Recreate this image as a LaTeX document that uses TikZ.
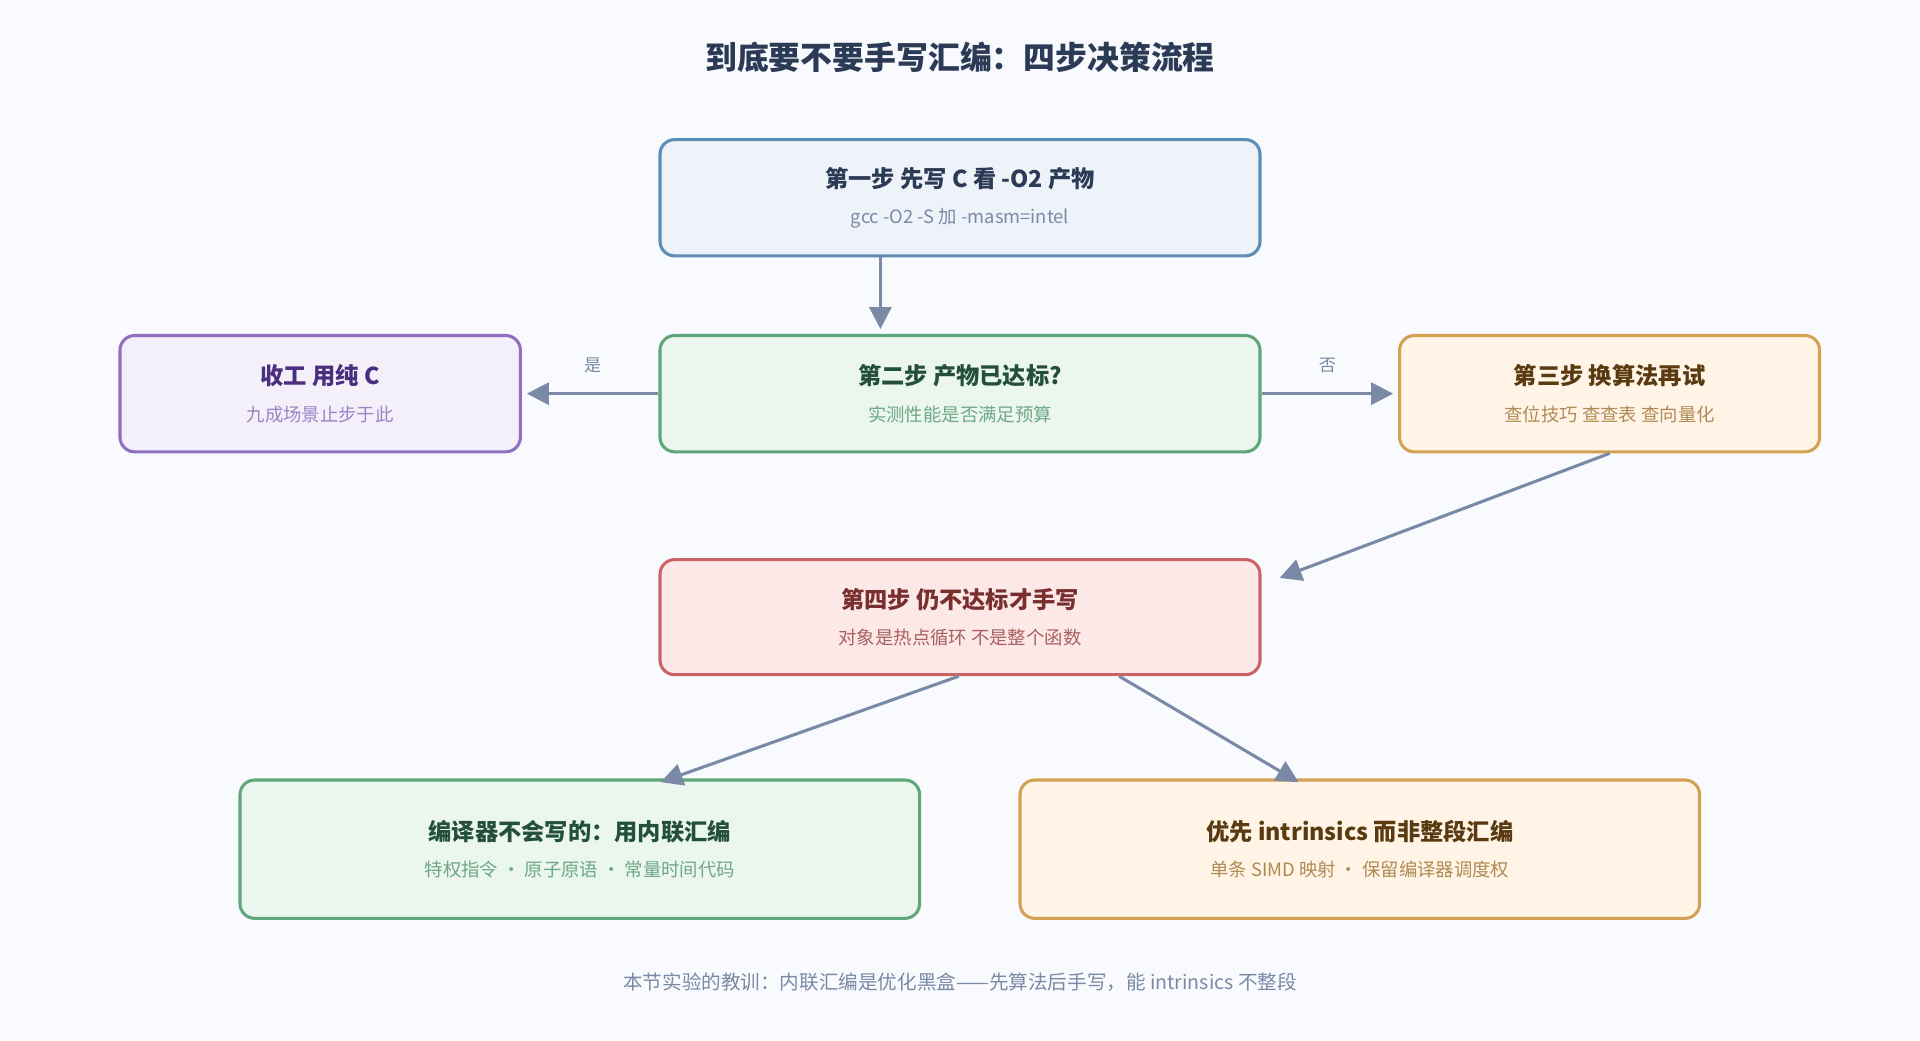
\documentclass[tikz,border=0pt]{standalone}
\usepackage{fontspec}
\setmainfont{Noto Sans CJK SC}
\usetikzlibrary{positioning,calc,arrows.meta}
\definecolor{page}{HTML}{F8FAFD}
\definecolor{ink}{HTML}{2B3A55}
\definecolor{muted}{HTML}{7A8AA6}
\definecolor{bluefill}{HTML}{EEF3FA}\definecolor{blueline}{HTML}{5B8DB8}
\definecolor{greenfill}{HTML}{EAF6EE}\definecolor{greenline}{HTML}{5FA77A}
\definecolor{greenink}{HTML}{24503A}\definecolor{greensub}{HTML}{6FA886}
\definecolor{purplefill}{HTML}{F3F0FA}\definecolor{purpleline}{HTML}{8E6FC0}
\definecolor{purpleink}{HTML}{4B2F7F}\definecolor{purplesub}{HTML}{9A84C5}
\definecolor{orangefill}{HTML}{FFF4E5}\definecolor{orangeline}{HTML}{D4A054}
\definecolor{orangeink}{HTML}{5A3A10}\definecolor{orangesub}{HTML}{B08A55}
\definecolor{redfill}{HTML}{FDE8E8}\definecolor{redline}{HTML}{C96464}
\definecolor{redink}{HTML}{7A2F2F}\definecolor{redsub}{HTML}{A86060}
\tikzset{
  stepbox/.style={rectangle,rounded corners=12pt,line width=2.5pt,align=center,
    inner sep=0pt,font=\fontsize{15}{28}\selectfont},
  flow/.style={-{Triangle[length=18pt,width=18pt]},line width=2.5pt,draw=muted},
  tag/.style={font=\fontsize{14}{16}\selectfont,text=muted}
}
\newcommand{\steptext}[4]{{\color{#1}\bfseries\fontsize{19}{24}\selectfont #2}\\[2pt]{\color{#3}\fontsize{15}{18}\selectfont #4}}
\begin{document}
\begin{tikzpicture}[x=1pt,y=-1pt]
\fill[page] (0,0) rectangle (1568,850);
\node[font=\bfseries\fontsize{26}{30}\selectfont,text=ink] (title) at (784,47) {到底要不要手写汇编：四步决策流程};

\node[stepbox,fill=bluefill,draw=blueline,minimum width=490pt,minimum height=95pt] (first) at (784,161.5)
  {\steptext{ink}{第一步 先写 C 看 -O2 产物}{muted}{gcc -O2 -S 加 -masm=intel}};
\node[stepbox,fill=greenfill,draw=greenline,minimum width=490pt,minimum height=95pt] (second) at (784,321.5)
  {\steptext{greenink}{第二步 产物已达标?}{greensub}{实测性能是否满足预算}};
\node[stepbox,fill=purplefill,draw=purpleline,minimum width=327pt,minimum height=95pt] (done) at (261.5,321.5)
  {\steptext{purpleink}{收工 用纯 C}{purplesub}{九成场景止步于此}};
\node[stepbox,fill=orangefill,draw=orangeline,minimum width=343pt,minimum height=95pt] (third) at (1314.5,321.5)
  {\steptext{orangeink}{第三步 换算法再试}{orangesub}{查位技巧 查查表 查向量化}};
\node[stepbox,fill=redfill,draw=redline,minimum width=490pt,minimum height=94pt] (fourth) at (784,504)
  {\steptext{redink}{第四步 仍不达标才手写}{redsub}{对象是热点循环 不是整个函数}};
\node[stepbox,fill=greenfill,draw=greenline,minimum width=555pt,minimum height=113pt] (inline) at (473.5,693.5)
  {\steptext{greenink}{编译器不会写的：用内联汇编}{greensub}{特权指令 · 原子原语 · 常量时间代码}};
\node[stepbox,fill=orangefill,draw=orangeline,minimum width=555pt,minimum height=113pt] (intrin) at (1110.5,693.5)
  {\steptext{orangeink}{优先 intrinsics 而非整段汇编}{orangesub}{单条 SIMD 映射 · 保留编译器调度权}};

\coordinate (a) at ($(first.south)+(-65,0)$);
\coordinate (b) at ($(third.south)+(0,0)$);
\coordinate (c) at (1045,472);
\coordinate (d) at ($(fourth.south)+(-1,0)$);
\coordinate (e) at ($(fourth.south)+(130,0)$);
\draw[flow] (a) -- ($(second.north)+(-65,-4)$);
\draw[flow] (second.west) -- ($(done.east)+(4,0)$) node[tag,midway,above=12pt] {是};
\draw[flow] (second.east) -- ($(third.west)+(-4,0)$) node[tag,midway,above=12pt] {否};
\draw[flow] (b) -- (c);
\draw[flow] (d) -- ($(inline.north)+(66,3)$);
\draw[flow] (e) -- ($(intrin.north)+(-50,3)$);

\node[font=\fontsize{16}{20}\selectfont,text=muted] (lesson) at (784,802)
  {本节实验的教训：内联汇编是优化黑盒——先算法后手写，能 intrinsics 不整段};
\end{tikzpicture}
\end{document}
